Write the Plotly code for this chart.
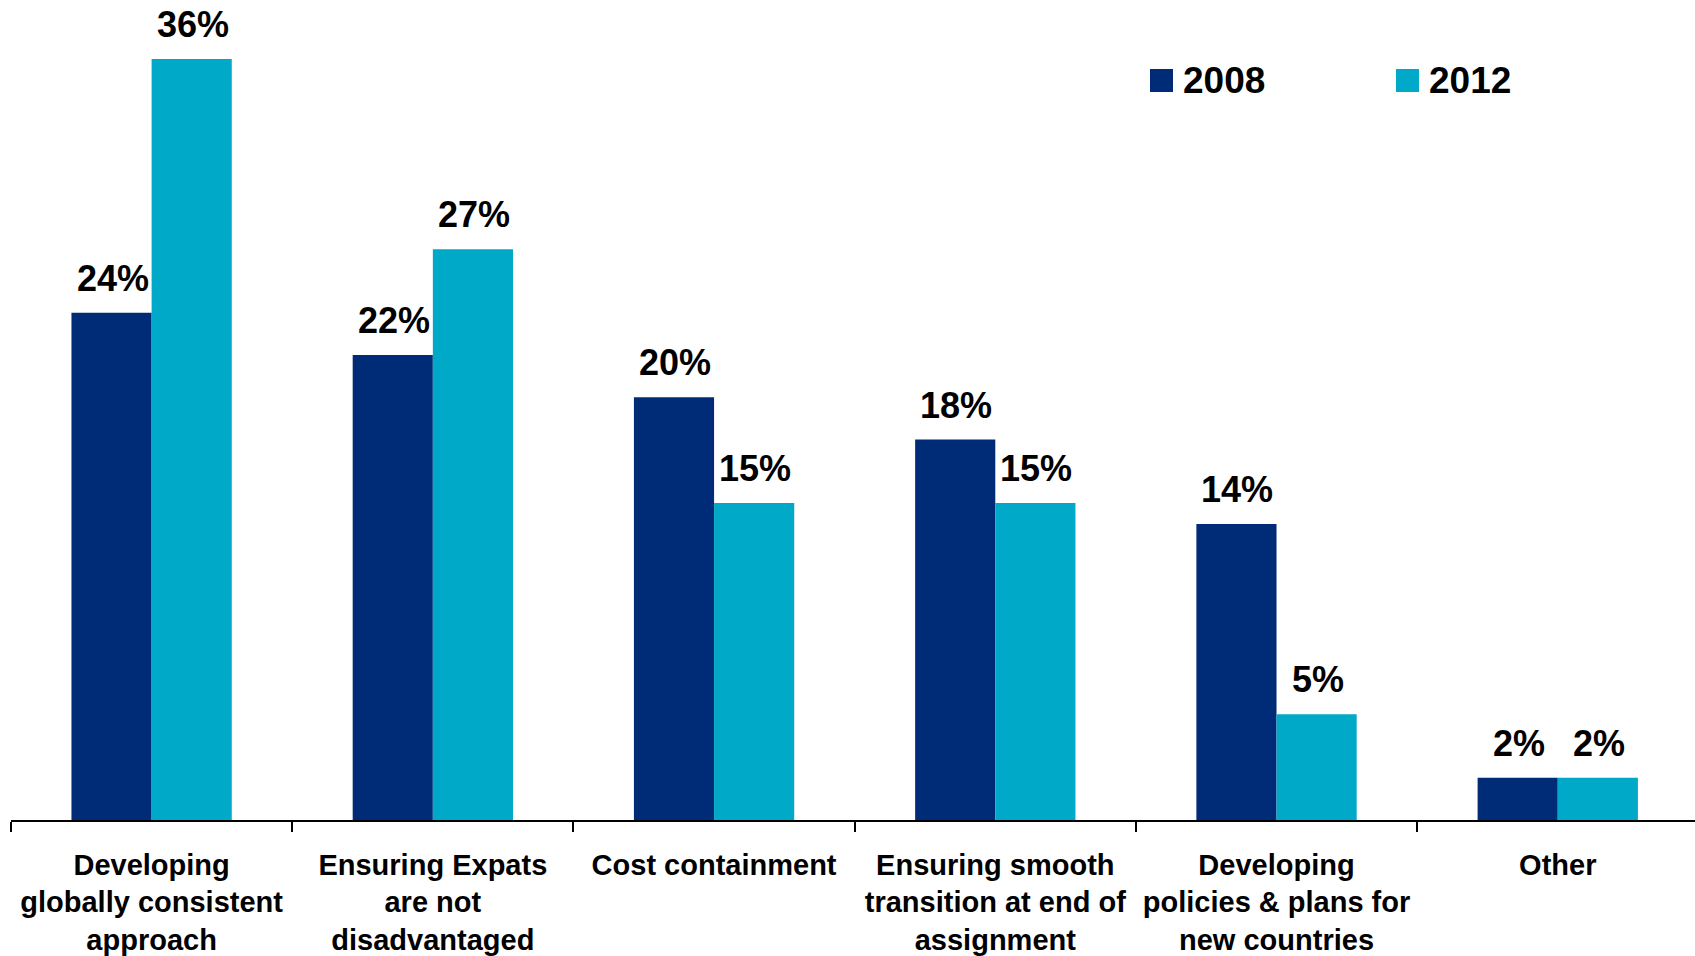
import plotly.graph_objects as go

categories = [
    "Developing<br>globally consistent<br>approach",
    "Ensuring Expats<br>are not<br>disadvantaged",
    "Cost containment",
    "Ensuring smooth<br>transition at end of<br>assignment",
    "Developing<br>policies & plans for<br>new countries",
    "Other",
]
series_names = ["2008", "2012"]
values_2008 = [24, 22, 20, 18, 14, 2]
values_2012 = [36, 27, 15, 15, 5, 2]
colors = ["#002C77", "#00A9C8"]

FONT = "Liberation Sans, Arial, sans-serif"
W, H = 1695, 956
ML, MR, MT, MB = 11, 0, 20, 136
PLOT_W = W - ML - MR
PLOT_H = H - MT - MB
Y_MAX = 37.85
X_RANGE = [-0.5, 5.488]
BARGAP = 0.43

fig = go.Figure()
for name, vals, col in zip(series_names, [values_2008, values_2012], colors):
    fig.add_trace(go.Bar(
        x=categories, y=vals, name=name,
        marker=dict(color=col, line=dict(width=0)),
        showlegend=False,
    ))

# value labels above each bar
cat_px = PLOT_W / (X_RANGE[1] - X_RANGE[0])
bar_px = cat_px * (1 - BARGAP) / 2
for i, vals in enumerate([values_2008, values_2012]):
    shift = (i - 0.5) * bar_px
    for c, v in zip(categories, vals):
        fig.add_annotation(
            x=c, y=v, text=f"{v}%", showarrow=False,
            xshift=shift + 1, yshift=12, yanchor="bottom",
            font=dict(family=FONT, size=36, color="black", weight="bold"),
        )

# legend drawn as squares and labels
def px_x(p):
    return (p - ML) / PLOT_W

def px_y(p):
    return (H - MB - p) / PLOT_H

legend_items = [(1150, "2008", colors[0]), (1396, "2012", colors[1])]
for x0, label, col in legend_items:
    fig.add_shape(type="rect", xref="paper", yref="paper",
                  x0=px_x(x0), x1=px_x(x0 + 23), y0=px_y(92), y1=px_y(69),
                  fillcolor=col, line=dict(width=0))
    fig.add_annotation(xref="paper", yref="paper", x=px_x(x0 + 31), y=px_y(80.5),
                       text=label, showarrow=False, xanchor="left", yanchor="middle",
                       font=dict(family=FONT, size=37, color="black", weight="bold"))

fig.update_layout(
    width=W, height=H,
    margin=dict(l=ML, r=MR, t=MT, b=MB),
    paper_bgcolor="white", plot_bgcolor="white",
    barmode="group", bargap=BARGAP, bargroupgap=0,
    xaxis=dict(
        range=X_RANGE,
        showline=True, linecolor="black", linewidth=1.5,
        ticks="outside", tickson="boundaries", ticklen=10, tickcolor="black", tickwidth=1.5,
        tickfont=dict(family=FONT, size=29, color="black", weight="bold"),
        ticklabelstandoff=18,
        showgrid=False, zeroline=False,
    ),
    yaxis=dict(range=[0, Y_MAX], visible=False, showgrid=False, zeroline=False),
)

fig.write_html("out.html")
